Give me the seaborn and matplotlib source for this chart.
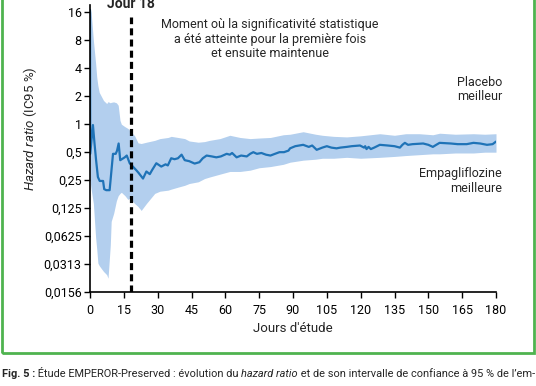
import matplotlib
matplotlib.use("Agg")
import matplotlib.pyplot as plt
import matplotlib.patches as mpatches
import seaborn as sns
import pandas as pd

# Hazard ratio line (day, HR)
hr_days = [0, 0.1, 1.3, 2.0, 2.7, 3.5, 4.3, 5.8, 6.3, 7.2, 8.7, 10.2, 11.4, 12.0, 12.7, 13.4,
           15.4, 16.3, 17.6, 19, 20.5, 21.5, 23.5, 25, 26.5, 27.5, 29.4, 31.6, 33.5, 34.5, 36,
           37.5, 39, 40.6, 42, 44, 46.4, 48.5, 50, 51.7, 54, 56, 58, 60.6, 62, 63, 65, 67, 69.5,
           71, 72.4, 74, 76, 78, 80, 82, 84, 86, 88, 88.7, 91, 94.5, 97, 98.5, 100.5, 103, 105,
           107, 109.3, 111, 113.8, 116, 119.7, 121.5, 122, 122.6, 123.5, 124.5, 126, 128.5, 132,
           135, 137.4, 138.5, 139.6, 141, 143, 147.7, 150, 152, 153.5, 155, 160, 163, 167, 170,
           173, 176, 178.5, 180]
hr_vals = [17, 0.48, 0.98, 0.62, 0.41, 0.27, 0.245, 0.245, 0.2, 0.195, 0.195, 0.48, 0.48, 0.52,
           0.62, 0.41, 0.44, 0.46, 0.38, 0.35, 0.32, 0.30, 0.26, 0.31, 0.29, 0.32, 0.38, 0.35,
           0.37, 0.36, 0.43, 0.42, 0.43, 0.47, 0.41, 0.40, 0.377, 0.39, 0.43, 0.46, 0.45, 0.44,
           0.45, 0.48, 0.47, 0.49, 0.44, 0.46, 0.45, 0.48, 0.50, 0.48, 0.49, 0.47, 0.46, 0.48,
           0.50, 0.50, 0.52, 0.55, 0.58, 0.60, 0.57, 0.59, 0.53, 0.56, 0.58, 0.56, 0.55, 0.56,
           0.57, 0.58, 0.59, 0.56, 0.58, 0.54, 0.57, 0.54, 0.56, 0.60, 0.59, 0.58, 0.56, 0.60,
           0.63, 0.60, 0.61, 0.62, 0.60, 0.57, 0.60, 0.63, 0.62, 0.61, 0.61, 0.63, 0.62, 0.60,
           0.61, 0.65]

# 95 % confidence band
ci_days = [0, 0.5, 1.5, 2.5, 3, 3.5, 4.1, 5, 6, 7.4, 8, 9, 9.4, 10.5, 11.7, 12.5, 13.3, 13.9,
           15.5, 16.8, 17.6, 19.8, 21.3, 22.7, 25, 28.7, 31, 34.6, 36, 39, 42, 44, 48, 50.8, 53,
           57.6, 62, 66.5, 71, 75, 80, 85.7, 88.7, 94.5, 100, 103, 108, 113.8, 120, 128.5, 135,
           140, 146, 152, 155, 162, 170, 175, 180]
ci_high = [18, 16, 8, 4.5, 3.2, 2.6, 2.2, 2.0, 1.8, 1.67, 1.75, 1.7, 1.72, 1.74, 1.7, 1.6, 1.1,
           1.0, 0.94, 0.9, 0.86, 0.75, 0.63, 0.62, 0.64, 0.67, 0.70, 0.72, 0.74, 0.72, 0.70,
           0.66, 0.64, 0.65, 0.67, 0.70, 0.76, 0.72, 0.70, 0.71, 0.72, 0.77, 0.78, 0.83, 0.78,
           0.76, 0.74, 0.73, 0.75, 0.79, 0.76, 0.79, 0.79, 0.77, 0.80, 0.78, 0.79, 0.78, 0.79]
ci_low = [0.25, 0.2, 0.14, 0.06, 0.045, 0.032, 0.03, 0.028, 0.026, 0.024, 0.022, 0.05, 0.09,
          0.11, 0.15, 0.17, 0.18, 0.185, 0.17, 0.155, 0.16, 0.14, 0.13, 0.118, 0.14, 0.18, 0.19,
          0.195, 0.2, 0.21, 0.22, 0.23, 0.24, 0.26, 0.27, 0.29, 0.31, 0.31, 0.32, 0.34, 0.35,
          0.37, 0.39, 0.41, 0.42, 0.43, 0.43, 0.44, 0.43, 0.44, 0.45, 0.46, 0.47, 0.48, 0.48,
          0.49, 0.49, 0.50, 0.50]

y_ticks = [1/64, 1/32, 1/16, 1/8, 1/4, 1/2, 1, 2, 4, 8, 16]
y_labels = ["0,0156", "0,0313", "0,0625", "0,125", "0,25", "0,5", "1", "2", "4", "8", "16"]
x_ticks = list(range(0, 181, 15))

signif_day = 18
signif_top = 14.3

# caption pieces: (text, weight, style)
caption = [("Fig. 5 :", "bold", "normal"),
           (" Étude EMPEROR-Preserved : évolution du ", "normal", "normal"),
           ("hazard ratio", "normal", "italic"),
           (" et de son intervalle de confiance à 95 % de l’em-", "normal", "normal")]

line_color = "#1f73b7"
band_color = "#b3cfee"
frame_green = "#4fb34f"

sns.set_style("ticks")
plt.rcParams["font.family"] = ["Roboto", "DejaVu Sans"]
plt.rcParams["mathtext.fontset"] = "custom"
plt.rcParams["mathtext.rm"] = "Roboto"
plt.rcParams["mathtext.it"] = "Roboto:italic"
plt.rcParams["mathtext.bf"] = "Roboto:bold"

W, H = 536, 386
fig = plt.figure(figsize=(W / 100, H / 100), dpi=100)
ax = fig.add_axes([90 / W, 1 - 292 / H, 406 / W, 287 / H])

ax.fill_between(ci_days, ci_low, ci_high, color=band_color, lw=0)
df = pd.DataFrame({"day": hr_days, "hr": hr_vals})
sns.lineplot(data=df, x="day", y="hr", ax=ax, color=line_color, lw=1.6,
             estimator=None, sort=False)
ax.vlines(signif_day, y_ticks[0], signif_top, colors="black", lw=2.3,
          linestyles=(0, (2.2, 1.3)))

ax.set_yscale("log", base=2)
ax.set_ylim(1/64, 19.2)
ax.set_xlim(0, 180)
ax.set_yticks(y_ticks)
ax.set_yticklabels(y_labels)
ax.minorticks_off()
ax.set_xticks(x_ticks)
ax.tick_params(axis="both", labelsize=9, colors="black", length=4, width=1)
ax.tick_params(axis="y", pad=2)
ax.tick_params(axis="x", pad=5)
for s in ["top", "right"]:
    ax.spines[s].set_visible(False)
for s in ["left", "bottom"]:
    ax.spines[s].set_linewidth(1.2)
    ax.spines[s].set_color("black")

ax.set_xlabel("Jours d'étude", fontsize=9.5)
ax.xaxis.set_label_coords(0.5, -0.105)
ax.set_ylabel(r"$\mathit{Hazard\ ratio}$ (IC95 %)", fontsize=9.5)
ax.yaxis.set_label_coords(-0.125, 0.57)

def px(x, y):
    return x / W, 1 - y / H

fig.text(*px(130.6, 8), "Jour 18", ha="center", va="baseline", fontsize=10,
         fontweight="bold")
fig.text(*px(270, 18), "Moment où la significativité statistique\na été atteinte pour la première fois\net ensuite maintenue",
         ha="center", va="top", fontsize=9, linespacing=1.15)
fig.text(*px(502, 76), "Placebo\nmeilleur", ha="right", va="top", fontsize=9, linespacing=1.15)
fig.text(*px(502, 167), "Empagliflozine\nmeilleure", ha="right", va="top", fontsize=9,
         linespacing=1.15)

fig.patches.append(mpatches.Rectangle(px(1.5, 353), 532.5 / W, 400 / H, fill=False,
                                      edgecolor=frame_green, lw=2, transform=fig.transFigure,
                                      figure=fig))

# caption laid out piece by piece so it spans from x=2 to x=533
renderer = fig.canvas.get_renderer()
size = 8.3
widths = []
for txt, wt, st in caption:
    t = fig.text(0, 0, txt, fontsize=size, fontweight=wt, fontstyle=st)
    widths.append(t.get_window_extent(renderer).width)
    t.remove()
size = size * 531 / sum(widths)
x = 2
for (txt, wt, st), w in zip(caption, widths):
    fig.text(*px(x, 377), txt, ha="left", va="baseline", fontsize=size,
             fontweight=wt, fontstyle=st)
    x += w * 531 / sum(widths)

fig.savefig("out.png", dpi=100)
